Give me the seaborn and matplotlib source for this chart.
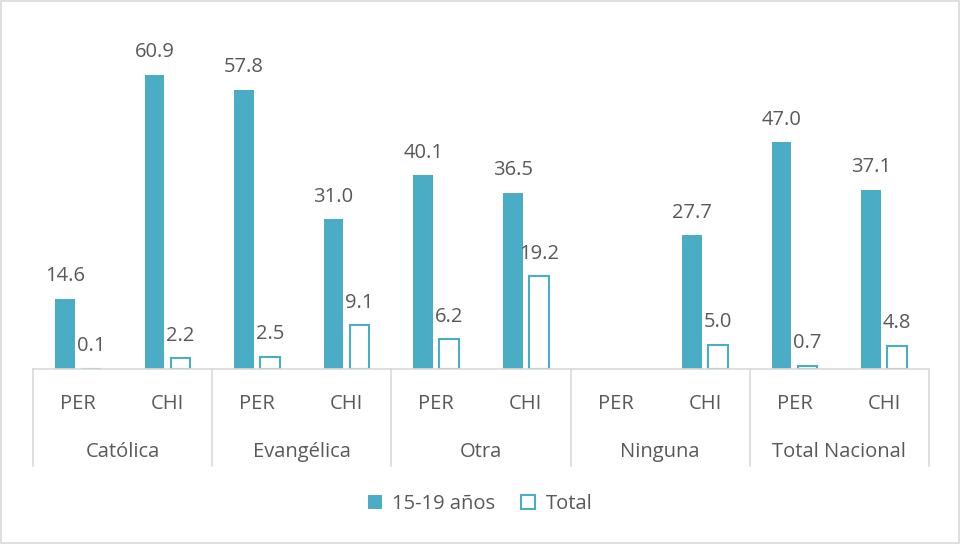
import numpy as np
import pandas as pd
import matplotlib
matplotlib.use("Agg")
import matplotlib.pyplot as plt
import matplotlib.transforms as mtransforms
from matplotlib.patches import Patch, Rectangle
from matplotlib.lines import Line2D
import seaborn as sns

religions = ["Católica", "Evangélica", "Otra", "Ninguna", "Total Nacional"]
countries = ["PER", "CHI"]
series_names = ["15-19 años", "Total"]
teen_values = [14.6, 60.9, 57.8, 31.0, 40.1, 36.5, np.nan, 27.7, 47.0, 37.1]
total_values = [0.1, 2.2, 2.5, 9.1, 6.2, 19.2, np.nan, 5.0, 0.7, 4.8]

TEAL = "#4BACC6"
TXT = "#595959"
GRID = "#D9D9D9"
FS = 14.5

sns.set_theme(style="white")
plt.rcParams["font.family"] = ["Open Sans", "DejaVu Sans"]

xkeys = [f"{r}|{c}" for r in religions for c in countries]
df = pd.DataFrame({
    "x": xkeys * 2,
    "serie": [series_names[0]] * len(xkeys) + [series_names[1]] * len(xkeys),
    "valor": teen_values + total_values,
})

fig = plt.figure(figsize=(9.6, 5.44), dpi=100)
ax = fig.add_axes([33 / 960, 1 - 369 / 544, (929 - 33) / 960, (369 - 31) / 544])

sns.barplot(data=df, x="x", y="valor", hue="serie", order=xkeys,
            hue_order=series_names, palette={series_names[0]: TEAL, series_names[1]: "white"},
            width=0.58, gap=0.24, legend=False, ax=ax, errorbar=None, saturation=1)

for i, cont in enumerate(ax.containers):
    for p in cont.patches:
        if i == 0:
            p.set_edgecolor(TEAL)
            p.set_linewidth(0)
        else:
            p.set_facecolor("white")
            p.set_edgecolor(TEAL)
            p.set_linewidth(1.5)
    labels = ["" if np.isnan(v) else f"{v:.1f}" for v in cont.datavalues]
    ax.bar_label(cont, labels=labels, padding=9, fontsize=FS, color=TXT)

ax.set_ylim(0, 70)
ax.set_xlim(-0.5, len(xkeys) - 0.5)
ax.set_yticks([])
ax.set_xticks([])
ax.set_xlabel("")
ax.set_ylabel("")
for s in ["top", "right", "left"]:
    ax.spines[s].set_visible(False)
ax.spines["bottom"].set_color(GRID)
ax.spines["bottom"].set_linewidth(1.2)

trans = mtransforms.blended_transform_factory(ax.transData, ax.transAxes)
depth = (466 - 369) / (369 - 31)
for k in range(len(religions) + 1):
    xpos = -0.5 + 2 * k
    ax.add_line(Line2D([xpos, xpos], [0, -depth], transform=trans, color=GRID,
                       lw=1.2, clip_on=False))
for i, key in enumerate(xkeys):
    ax.text(i, -35 / 338, key.split("|")[1], transform=trans, ha="center", va="center",
            fontsize=FS, color=TXT)
for j, r in enumerate(religions):
    ax.text(2 * j + 0.5, -83 / 338, r, transform=trans, ha="center", va="center",
            fontsize=FS, color=TXT)

handles = [Patch(facecolor=TEAL, edgecolor=TEAL, linewidth=0),
           Patch(facecolor="white", edgecolor=TEAL, linewidth=1.5)]
fig.legend(handles, series_names, loc="center", bbox_to_anchor=(0.5, 1 - 504 / 544),
           ncol=2, frameon=False, fontsize=FS, labelcolor=TXT,
           handlelength=0.7, handleheight=0.7, handletextpad=0.5, columnspacing=1.3)

fig.patches.append(Rectangle((0.001, 0.001), 0.998, 0.997, transform=fig.transFigure,
                             fill=False, edgecolor=GRID, linewidth=1.2))

fig.savefig("out.png", dpi=100, facecolor="white")
